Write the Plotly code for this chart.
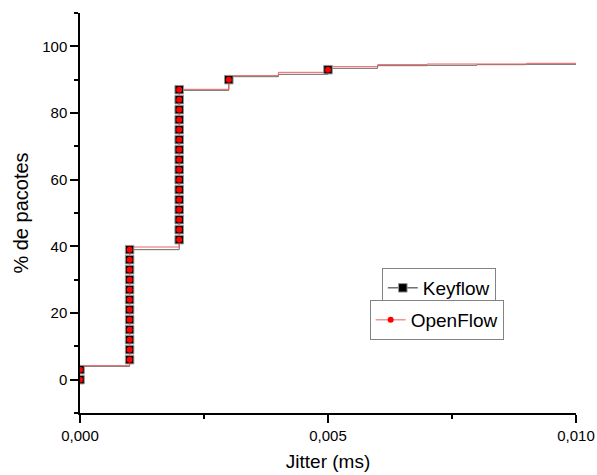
import plotly.graph_objects as go

# ---- data ----
# step levels of the cumulative curves (value held from each x to the next)
step_x = [0.000, 0.001, 0.002, 0.003, 0.004, 0.005, 0.006, 0.007, 0.008, 0.009, 0.010]
keyflow_step_y = [4.0, 39.0, 86.8, 90.9, 91.6, 93.4, 94.2, 94.3, 94.5, 94.6, 94.6]
openflow_step_y = [4.2, 39.8, 87.1, 91.2, 92.2, 93.9, 94.5, 94.7, 94.7, 94.9, 94.9]

# plotted symbols (same for both series)
marker_x = ([0.000, 0.000]
            + [0.001] * 12
            + [0.002] * 16
            + [0.003, 0.005])
marker_y = ([0, 3]
            + [6, 9, 12, 15, 18, 21, 24, 27, 30, 33, 36, 39]
            + [42, 45, 48, 51, 54, 57, 60, 63, 66, 69, 72, 75, 78, 81, 84, 87]
            + [90, 93])

series_names = ["Keyflow", "OpenFlow"]
x_tick_vals = [0.000, 0.005, 0.010]
y_tick_vals = [0, 20, 40, 60, 80, 100]

FONT = "Liberation Sans, Arial, sans-serif"
KEY_LINE = "rgb(105,105,105)"
OPEN_LINE = "rgb(240,95,95)"

key_marker = dict(symbol="square", size=8.5, color="black",
                  line=dict(color="rgb(150,150,150)", width=1))
open_marker = dict(symbol="circle", size=6, color="rgb(255,0,0)",
                   line=dict(width=0))

fig = go.Figure()

# step lines
fig.add_trace(go.Scatter(x=step_x, y=keyflow_step_y, mode="lines",
                         line=dict(color=KEY_LINE, width=1, shape="hv"),
                         showlegend=False, hoverinfo="skip"))
fig.add_trace(go.Scatter(x=step_x, y=openflow_step_y, mode="lines",
                         line=dict(color=OPEN_LINE, width=1, shape="hv"),
                         showlegend=False, hoverinfo="skip"))
# symbols
fig.add_trace(go.Scatter(x=marker_x, y=marker_y, mode="markers",
                         marker=key_marker, showlegend=False))
fig.add_trace(go.Scatter(x=marker_x, y=marker_y, mode="markers",
                         marker=open_marker, showlegend=False))

# legend entries
fig.add_trace(go.Scatter(x=[None], y=[None], mode="lines+markers",
                         name=series_names[0], legend="legend",
                         line=dict(color="rgb(40,40,40)", width=1),
                         marker=key_marker))
fig.add_trace(go.Scatter(x=[None], y=[None], mode="lines+markers",
                         name=series_names[1], legend="legend2",
                         line=dict(color=OPEN_LINE, width=1),
                         marker=open_marker))

axis_common = dict(
    showline=True, linecolor="black", linewidth=1.5,
    ticks="outside", ticklen=8, tickwidth=1.5, tickcolor="black",
    showgrid=False, zeroline=False, automargin=False,
    tickfont=dict(family=FONT, size=15, color="black"),
)

fig.update_xaxes(
    range=[0, 0.010], tickvals=x_tick_vals, tickformat=".3f",
    minor=dict(dtick=0.0025, ticks="outside", ticklen=4, tickwidth=1.5,
               tickcolor="black", showgrid=False),
    title=dict(text="Jitter (ms)", font=dict(family=FONT, size=19, color="black"),
               standoff=12),
    **axis_common,
)
fig.update_yaxes(
    range=[-10, 110], tickvals=y_tick_vals,
    minor=dict(dtick=10, tick0=0, ticks="outside", ticklen=4, tickwidth=1.5,
               tickcolor="black", showgrid=False),
    title=dict(text="% de pacotes", font=dict(family=FONT, size=20, color="black"),
               standoff=8),
    **axis_common,
)

legend_common = dict(
    bgcolor="white", bordercolor="rgb(130,130,130)", borderwidth=1,
    font=dict(family=FONT, size=19, color="black"),
    xanchor="left", yanchor="top", tracegroupgap=0,
)

fig.update_layout(
    template="none",
    width=597, height=475,
    margin=dict(l=80, r=21, t=13, b=62, pad=0),
    paper_bgcolor="white", plot_bgcolor="white",
    separators=",.",
    font=dict(family=FONT, color="black"),
    legend=dict(x=0.6085, y=0.3625, **legend_common),
    legend2=dict(x=0.584, y=0.2825, **legend_common),
)

fig.write_html("out.html")
